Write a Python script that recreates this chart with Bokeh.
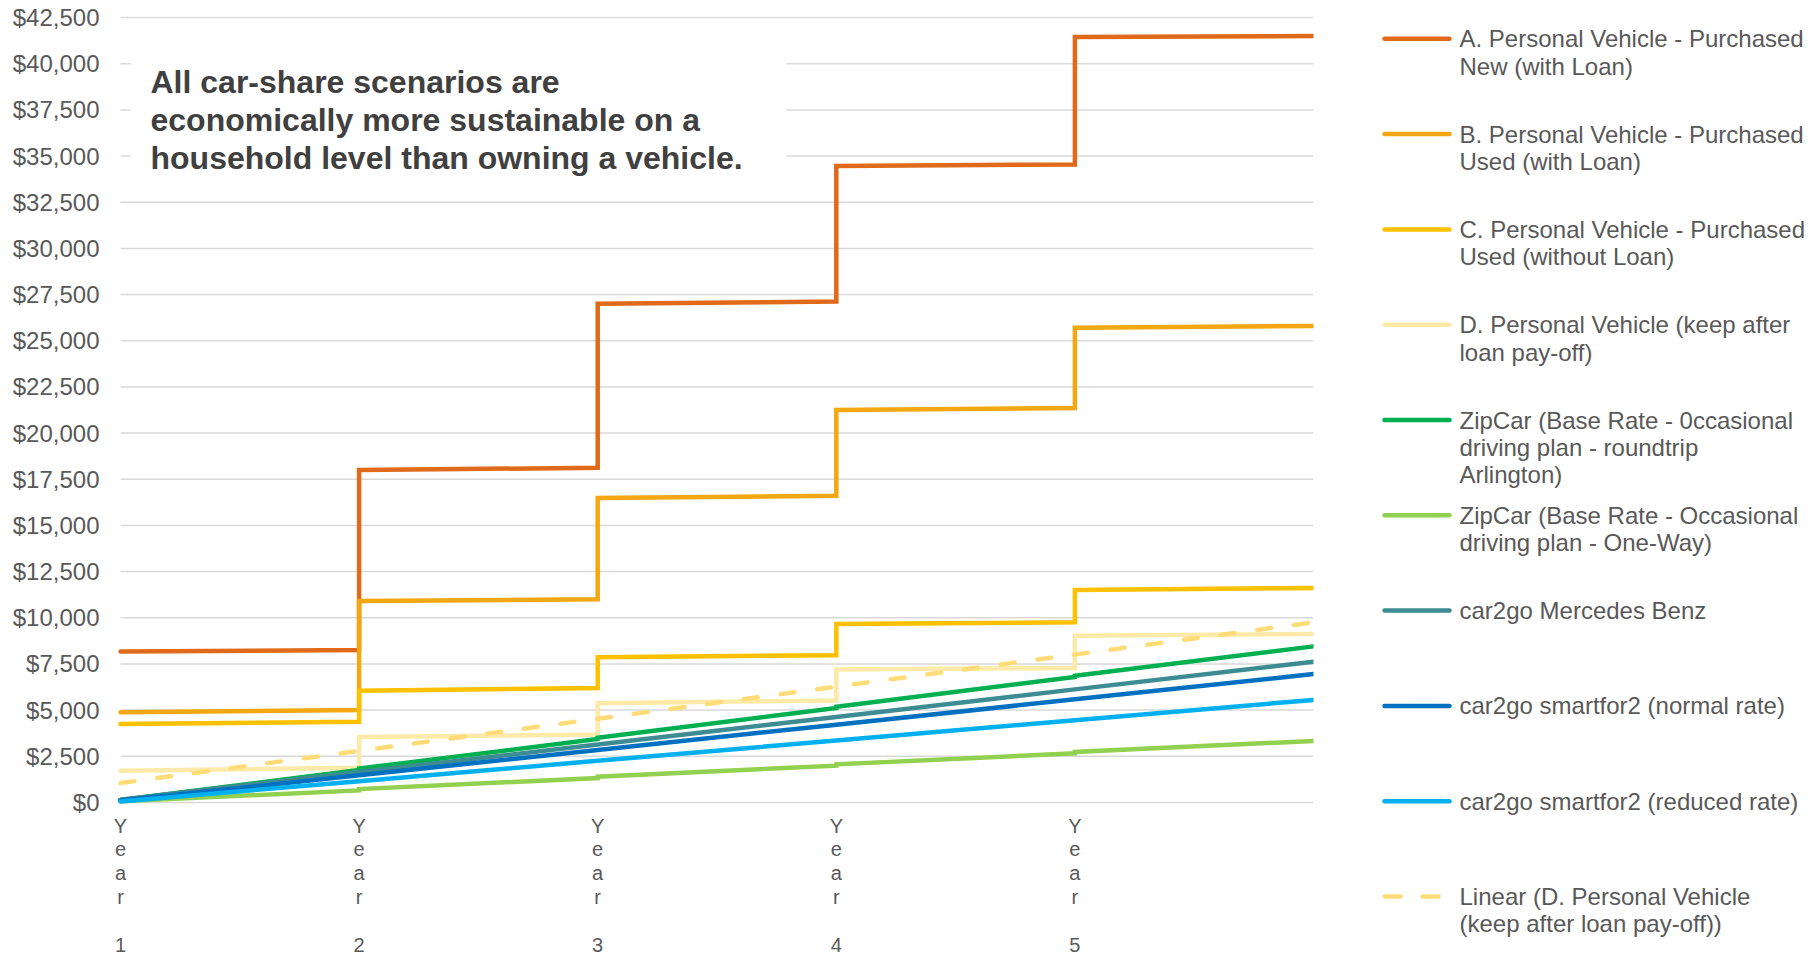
from bokeh.plotting import figure
from bokeh.models import (Range1d, FixedTicker, NumeralTickFormatter,
                          BoxAnnotation, Label, ColumnDataSource)
from bokeh.layouts import row
from bokeh.embed import file_html
from bokeh.resources import INLINE
from bokeh.core.properties import value

FONT = "Liberation Sans"
GRAY = "#595959"

# ---------------- data ----------------
year_bounds = [0, 1, 2, 3, 4, 5]
year_labels = ["Year 1", "Year 2", "Year 3", "Year 4", "Year 5"]
y_ticks = [0, 2500, 5000, 7500, 10000, 12500, 15000, 17500, 20000, 22500,
           25000, 27500, 30000, 32500, 35000, 37500, 40000, 42500]

# personal-vehicle scenarios: cost at start and at end of each year
a_start = [8170, 18000, 27000, 34460, 41450]
a_end = [8250, 18120, 27120, 34550, 41505]
b_start = [4880, 10910, 16480, 21250, 25700]
b_end = [5000, 11000, 16610, 21360, 25800]
c_start = [4250, 6050, 7857, 9666, 11508]
c_end = [4370, 6190, 7970, 9755, 11616]
d_start = [1720, 3540, 5365, 7200, 9030]
d_end = [1880, 3670, 5520, 7281, 9120]

# ZipCar scenarios (annual fee at each year start)
zip_rt_start = [130, 1830, 3500, 5180, 6860]
zip_rt_end = [1760, 3430, 5110, 6790, 8450]
zip_ow_start = [60, 720, 1390, 2060, 2730]
zip_ow_end = [650, 1320, 1990, 2660, 3330]

# car2go scenarios: cost at each year boundary
c2g_mb = [150, 1640, 3130, 4630, 6120, 7620]
c2g_normal = [100, 1470, 2840, 4210, 5580, 6950]
c2g_reduced = [50, 1150, 2250, 3350, 4450, 5550]

# linear trend of D
trend_x = [0, 5]
trend_y = [1050, 9750]

title_lines = ["All car-share scenarios are",
               "economically more sustainable on a",
               "household level than owning a vehicle."]

legend_labels = [
    ["A. Personal Vehicle - Purchased", "New (with Loan)"],
    ["B. Personal Vehicle - Purchased", "Used (with Loan)"],
    ["C. Personal Vehicle - Purchased", "Used (without Loan)"],
    ["D. Personal Vehicle (keep after", "loan pay-off)"],
    ["ZipCar (Base Rate - 0ccasional", "driving plan - roundtrip", "Arlington)"],
    ["ZipCar (Base Rate - Occasional", "driving plan - One-Way)"],
    ["car2go Mercedes Benz"],
    ["car2go smartfor2 (normal  rate)"],
    ["car2go smartfor2 (reduced rate)"],
    ["Linear (D. Personal Vehicle", "(keep after loan pay-off))"],
]

COL_A = "#E1691A"
COL_B = "#F4A711"
COL_C = "#FFC000"
COL_D = "#FEEAA8"
COL_TREND = "#FFDC78"
COL_ZRT = "#00B050"
COL_ZOW = "#92D050"
COL_MB = "#3D8C93"
COL_N = "#0070C0"
COL_R = "#00B0F0"
legend_colors = [COL_A, COL_B, COL_C, COL_D, COL_ZRT, COL_ZOW, COL_MB, COL_N, COL_R, COL_TREND]


def steps(starts, ends):
    xs, ys = [], []
    for i, (s, e) in enumerate(zip(starts, ends)):
        xs += [year_bounds[i], year_bounds[i + 1]]
        ys += [s, e]
    return xs, ys


def wrap_chars(lbl):
    word, num = lbl.split(" ")
    return "\n".join(list(word)) + "\n \n" + num


# ---------------- layout constants (page pixels) ----------------
TOTAL_H = 959
PLOT_L = 120          # page x of Year 1 / start of gridlines
PAD_L = 12            # extra frame room left of Year 1 for its label
FRAME_L = PLOT_L - PAD_L
FRAME_T = 16
PX_PER_YEAR = 1193 / 5.0
FRAME_W = 1193 + PAD_L
FRAME_H = TOTAL_H - FRAME_T
MAIN_W = FRAME_L + FRAME_W + 10
X0 = -PAD_L / PX_PER_YEAR
X1 = 5
Y_TOP = 42560
UNITS_PER_PX = 42620 / 787.0
Y_BOT = Y_TOP - FRAME_H * UNITS_PER_PX


def dx(px):  # page x -> data x
    return (px - PLOT_L) / PX_PER_YEAR


def dy(py):  # page y -> data y
    return Y_TOP - (py - FRAME_T) * UNITS_PER_PX


# ---------------- main chart ----------------
p = figure(frame_width=FRAME_W, frame_height=FRAME_H,
           x_range=Range1d(X0, X1), y_range=Range1d(Y_BOT, Y_TOP),
           min_border_left=FRAME_L, min_border_right=10, min_border_top=FRAME_T,
           min_border_bottom=0, x_axis_location=None,
           toolbar_location=None, output_backend="svg")
p.background_fill_color = "white"
p.border_fill_color = "white"
p.outline_line_color = None
p.xgrid.visible = False
p.ygrid.visible = False

p.yaxis.ticker = FixedTicker(ticks=y_ticks)
p.yaxis.formatter = NumeralTickFormatter(format="$0,0")
p.yaxis.axis_line_color = None
p.yaxis.major_tick_line_color = None
p.yaxis.minor_tick_line_color = None
p.yaxis.major_label_text_font = FONT
p.yaxis.major_label_text_font_size = "24px"
p.yaxis.major_label_text_color = GRAY
p.yaxis.major_label_standoff = 3

# horizontal gridlines across the plotted years only
p.segment(x0=[year_bounds[0]] * len(y_ticks), x1=[year_bounds[-1]] * len(y_ticks),
          y0=y_ticks, y1=y_ticks, line_color="#D9D9D9", line_width=1.5, level="underlay")

# category labels under each year (wrapped one character per line, as in the source)
p.text(x=year_bounds[:5], y=[dy(814)] * 5, text=[wrap_chars(l) for l in year_labels],
       text_font=value(FONT), text_font_size="20px", text_color=GRAY,
       text_align="center", text_baseline="top", text_line_height=1.09)

LW = 4.5
for st, en, col in [(a_start, a_end, COL_A), (b_start, b_end, COL_B),
                    (c_start, c_end, COL_C), (d_start, d_end, COL_D),
                    (zip_rt_start, zip_rt_end, COL_ZRT), (zip_ow_start, zip_ow_end, COL_ZOW)]:
    xs, ys = steps(st, en)
    p.line(xs, ys, line_color=col, line_width=LW, line_join="miter", line_cap="round")

for ys, col in [(c2g_mb, COL_MB), (c2g_normal, COL_N), (c2g_reduced, COL_R)]:
    p.line(year_bounds, ys, line_color=col, line_width=LW, line_cap="round")

p.line(trend_x, trend_y, line_color=COL_TREND, line_width=LW, line_dash="14 23", line_cap="round")

# title text box
p.add_layout(BoxAnnotation(left=dx(130), right=dx(786), bottom=dy(190), top=dy(30),
                           fill_color="white", fill_alpha=1.0, line_color=None))
for py, txt in zip([81, 119, 157], title_lines):
    p.add_layout(Label(x=dx(150), y=dy(py), text=txt, text_font=FONT, text_font_size="32px",
                       text_font_style="bold", text_color="#404040", text_baseline="middle"))

# ---------------- legend panel (coordinates = page pixels) ----------------
LEG_L = MAIN_W
LEG_W = 1810 - MAIN_W
lg = figure(frame_width=LEG_W, frame_height=FRAME_H,
            x_range=Range1d(LEG_L, LEG_L + LEG_W), y_range=Range1d(TOTAL_H, FRAME_T),
            x_axis_location=None, y_axis_location=None,
            min_border_left=0, min_border_right=0, min_border_top=FRAME_T, min_border_bottom=0,
            toolbar_location=None, output_backend="svg")
lg.xgrid.visible = False
lg.ygrid.visible = False
lg.outline_line_color = None
lg.background_fill_color = "white"
lg.border_fill_color = "white"

item_y0 = 38.3
item_step = 95.3
line_step = 27.3
tx, ty, tt = [], [], []
for i, lines in enumerate(legend_labels):
    y = item_y0 + i * item_step
    col = legend_colors[i]
    if i == len(legend_labels) - 1:
        lg.line([1384, 1439], [y, y], line_color=col, line_width=LW, line_dash="16 22",
                line_cap="round")
    else:
        lg.line([1384, 1449], [y, y], line_color=col, line_width=LW, line_cap="round")
    for j, t in enumerate(lines):
        tx.append(1459)
        ty.append(y + j * line_step)
        tt.append(t)

lg.text(x="x", y="y", text="t", source=ColumnDataSource(dict(x=tx, y=ty, t=tt)),
        text_font=value(FONT), text_font_size="24px", text_color=GRAY,
        text_baseline="middle", text_align="left")

layout = row(p, lg)
open("out.html", "w").write(file_html(layout, INLINE))
